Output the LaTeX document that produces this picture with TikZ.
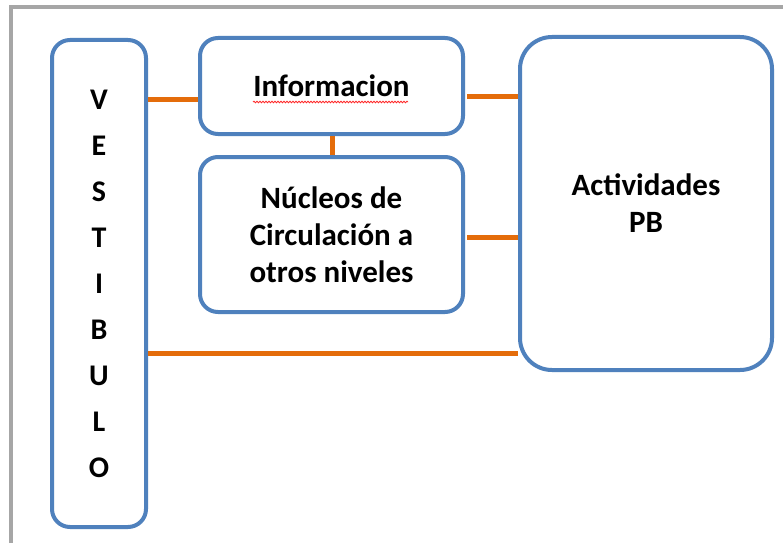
\documentclass[tikz,border=0pt]{standalone}
\usepackage{fontspec}
\setmainfont{Carlito}
\usepackage{tikz}
\usetikzlibrary{decorations.pathmorphing}
\definecolor{boxblue}{RGB}{79,129,189}
\definecolor{linkorange}{RGB}{228,108,10}
\definecolor{framegray}{RGB}{166,166,166}
\tikzset{
  block/.style={draw=boxblue, line width=4pt, rounded corners=18pt, align=center,
    font=\fontsize{31}{37}\selectfont\bfseries, inner sep=0pt},
  link/.style={draw=linkorange, line width=5pt}
}
\begin{document}
\begin{tikzpicture}[x=1pt,y=-1pt]
			\useasboundingbox (0,0) rectangle (783,543);
			\fill[white] (0,0) rectangle (783,543);
			\draw[framegray, line width=4pt] (11,543) -- (11,7) -- (783,7);
			% boxes
			\node[block, minimum width=94pt, minimum height=487pt,
			  font=\fontsize{30}{46}\selectfont\bfseries] (vest) at (99,283.5)
			  {\raisebox{-4pt}{\parbox{40pt}{\centering V\\E\\S\\T\\I\\B\\U\\L\\O}}};
			\node[block, minimum width=263pt, minimum height=96pt] (info) at (331.5,86) {Informacion};
			\node[block, minimum width=263pt, minimum height=155pt] (nucleos) at (331.5,234.5)
			  {Núcleos de\\Circulación a\\otros niveles};
			\node[block, rounded corners=32pt, minimum width=252pt, minimum height=333pt] (activ) at (646,203.5)
			  {Actividades\\PB};
			\draw[red!85!white, line width=0.8pt, decorate, decoration={snake, segment length=3pt, amplitude=0.8pt}]
			  (253,102) -- (408,102);
			% connectors
			\draw[link] (vest.east |- 0,99) -- (info.west |- 0,99);
			\draw[link] ([xshift=2pt]info.east |- 0,96) -- (activ.west |- 0,96);
			\draw[link] ([xshift=2pt]nucleos.east |- 0,237) -- (activ.west |- 0,237);
			\draw[link] (info.south -| 332,0) -- (nucleos.north -| 332,0);
			\draw[link] (vest.east |- 0,353) -- (activ.west |- 0,353);
		\end{tikzpicture}
\end{document}
